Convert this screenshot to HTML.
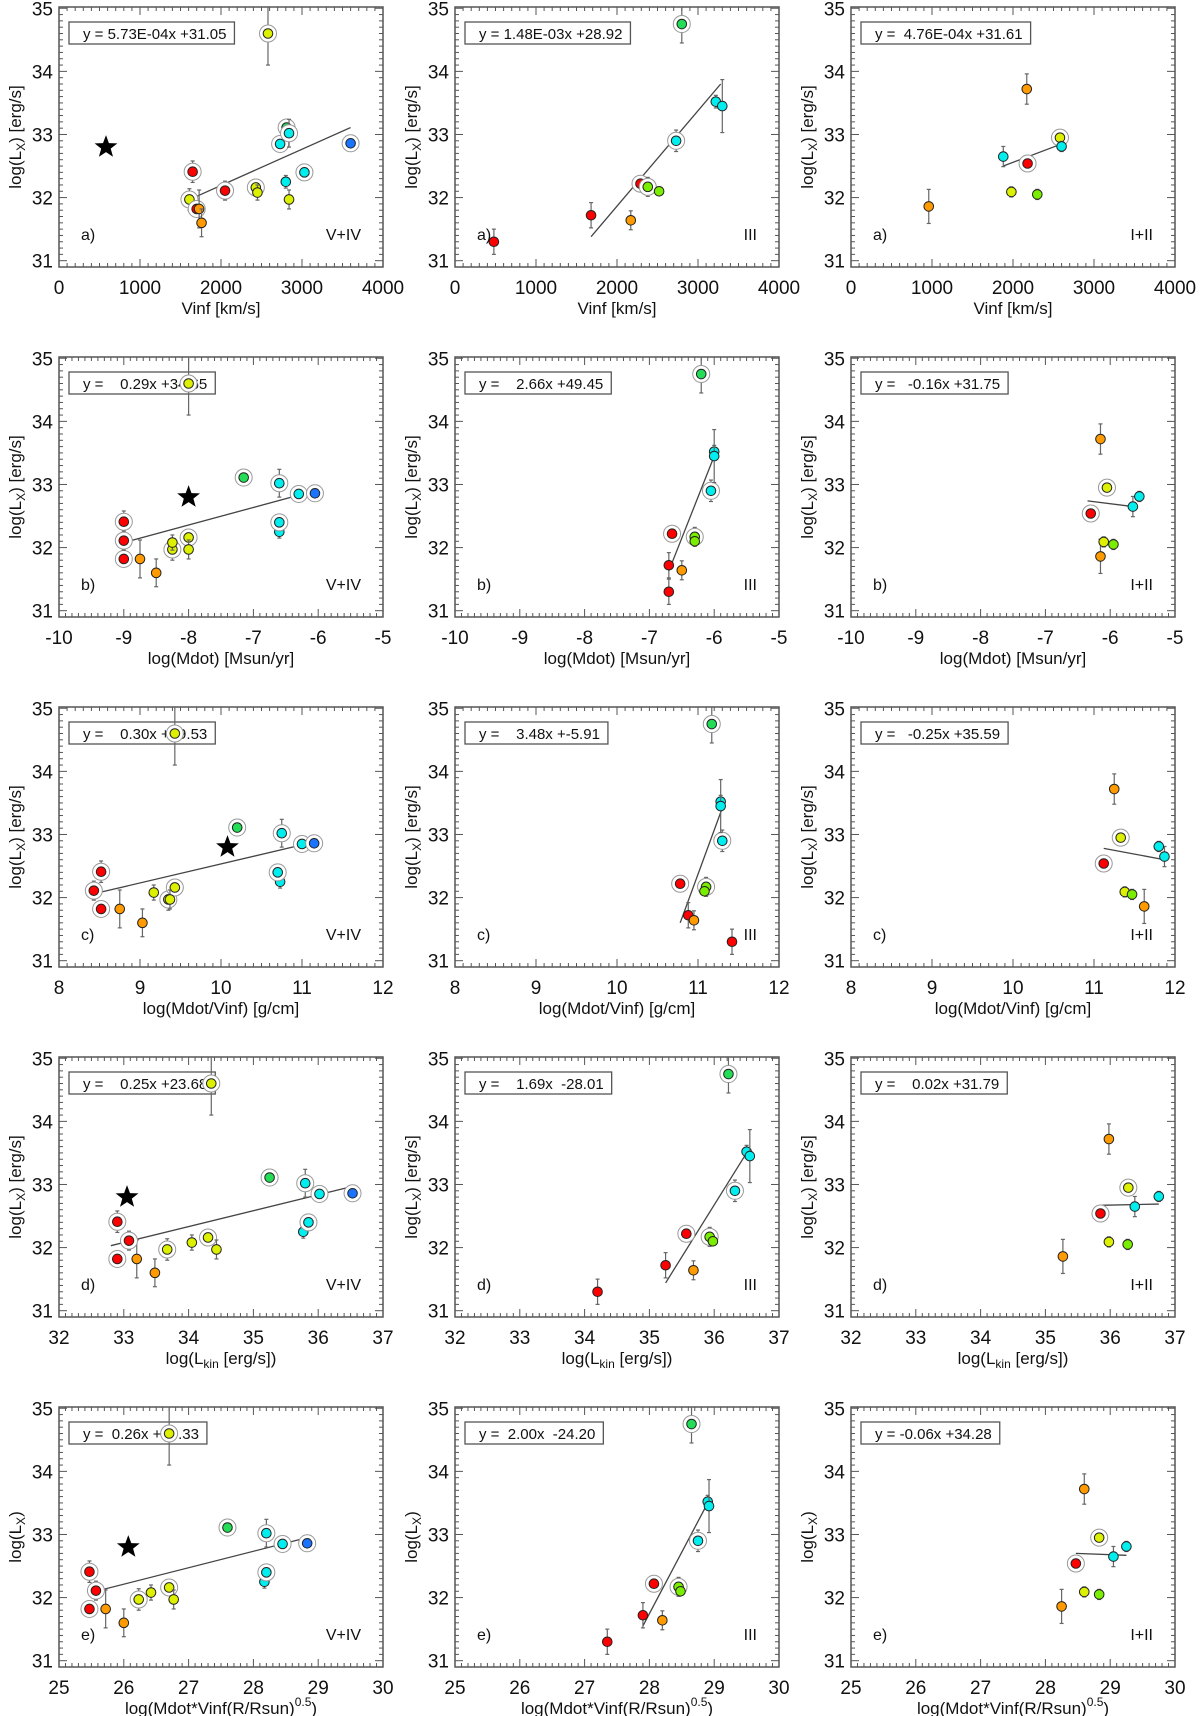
<!DOCTYPE html>
<html><head><meta charset="utf-8">
<style>
html,body{margin:0;padding:0;background:#fff;}
svg{display:block;font-family:"Liberation Sans",Arial,sans-serif;}
</style></head>
<body>
<svg id="fig" width="1200" height="1716" viewBox="0 0 1200 1716" xmlns="http://www.w3.org/2000/svg"></svg>
<script>
// ---- data: shared log(Lx) per luminosity class (column) ----
const c1Lx=[31.97,32.41,31.82,31.82,31.6,32.11,32.16,32.08,34.6,32.85,33.11,33.02,32.25,31.97,32.4,32.86];
const c1Err=[.17,.17,.1,.3,.22,.15,.08,.12,.5,.1,.1,.22,.1,.15,.1,.1];
const c1Col="YRROORYYYCGCCYCB";
const c1Ring=[1,1,1,0,0,1,1,0,1,1,1,1,0,0,1,1];
const c2Lx=[31.3,31.72,31.64,32.22,32.17,32.1,32.9,34.75,33.52,33.45];
const c2Err=[.2,.2,.15,.12,.15,.06,.17,.3,.1,.42];
const c2Col="RRORLLCGCC";
const c2Ring=[0,0,0,1,1,0,1,1,0,0];
const c3Lx=[31.86,32.65,32.09,33.72,32.54,32.05,32.95,32.81];
const c3Err=[.27,.16,.08,.24,.12,.08,.1,.08];
const c3Col="OCYORLYC";
const c3Ring=[0,0,0,0,1,0,1,0];
// x values per row (same star order as above)
const r1c1X=[1610,1650,1700,1730,1760,2050,2430,2450,2580,2730,2810,2840,2800,2840,3030,3600];
const r1c2X=[480,1680,2170,2290,2380,2520,2730,2800,3220,3300];
const r1c3X=[960,1880,1980,2170,2180,2300,2580,2600];
const r2c1X=[-8.25,-9,-9,-8.75,-8.5,-9,-8,-8.25,-8,-6.3,-7.15,-6.6,-6.6,-8,-6.6,-6.05];
const r2c2X=[-6.7,-6.7,-6.5,-6.65,-6.3,-6.3,-6.05,-6.2,-6,-6];
const r2c3X=[-6.15,-5.65,-6.1,-6.15,-6.3,-5.95,-6.05,-5.55];
const r3c1X=[9.35,8.52,8.52,8.75,9.03,8.43,9.43,9.17,9.43,11.0,10.2,10.75,10.73,9.37,10.7,11.15];
const r3c2X=[11.42,10.88,10.95,10.78,11.1,11.08,11.3,11.17,11.28,11.28];
const r3c3X=[11.62,11.87,11.38,11.25,11.12,11.47,11.33,11.8];
const r4c1X=[33.67,32.9,32.9,33.2,33.48,33.08,34.3,34.05,34.35,36.02,35.25,35.8,35.77,34.43,35.85,36.53];
const r4c2X=[34.2,35.25,35.68,35.57,35.93,35.98,36.32,36.22,36.5,36.55];
const r4c3X=[35.27,36.38,35.98,35.98,35.85,36.27,36.28,36.75];
const r5c1X=[26.23,25.47,25.47,25.72,26.0,25.57,26.7,26.42,26.7,28.45,27.6,28.2,28.17,26.77,28.2,28.83];
const r5c2X=[27.35,27.9,28.2,28.07,28.45,28.48,28.75,28.65,28.9,28.92];
const r5c3X=[28.25,29.05,28.6,28.6,28.47,28.83,28.83,29.25];
// reference star (x per row, y)
const starX=[580,-8,10.08,33.05,26.07];
const starY=32.8;
// fit line endpoints [x0,y0,x1,y1] per row (3 columns)
const fitR1=[[1700,32.02,3600,33.11],[1680,31.38,3280,33.8],[1880,32.5,2600,32.85]];
const fitR2=[[-9,32.08,-6.05,32.9],[-6.7,31.63,-6.0,33.45],[-6.35,32.74,-5.65,32.65]];
const fitR3=[[8.43,32.06,11.15,32.88],[10.78,31.6,11.3,33.42],[11.12,32.78,11.87,32.6]];
const fitR4=[[32.8,32.03,36.53,32.97],[35.25,31.44,36.5,33.5],[35.85,32.67,36.75,32.69]];
const fitR5=[[25.57,32.1,28.83,32.95],[27.9,31.55,28.9,33.5],[28.47,32.7,29.25,32.67]];
// equation labels
const eqR1=["y = 5.73E-04x +31.05","y = 1.48E-03x +28.92","y =  4.76E-04x +31.61"];
const eqR2=["y =    0.29x +34.65","y =    2.66x +49.45","y =   -0.16x +31.75"];
const eqR3=["y =    0.30x +29.53","y =    3.48x +-5.91","y =   -0.25x +35.59"];
const eqR4=["y =    0.25x +23.68","y =    1.69x  -28.01","y =    0.02x +31.79"];
const eqR5=["y =  0.26x +25.33","y =  2.00x  -24.20","y = -0.06x +34.28"];
// axis ticks
const xTicksR1=[0,1000,2000,3000,4000];
const xTicksR2=[-10,-9,-8,-7,-6,-5];
const xTicksR3=[8,9,10,11,12];
const xTicksR4=[32,33,34,35,36,37];
const xTicksR5=[25,26,27,28,29,30];
const yTicks=[31,32,33,34,35];
const classLabels=["V+IV","III","I+II"];
const rowLetters=["a)","b)","c)","d)","e)"];

// ---- layout ----
const NS="http://www.w3.org/2000/svg";
const svg=document.getElementById('fig');
const colLeft=[59,455,851], rowTop=[7,357,707,1057,1407], W=324, H=260;
const yMin=30.9,yMax=35.02;
const COLORS={R:"#ff0000",O:"#ff9a00",Y:"#dcf000",L:"#7aee00",G:"#22dd55",C:"#00eeee",B:"#1a74ff"};
function mk(tag,attrs,parent){const e=document.createElementNS(NS,tag);for(const k in attrs)e.setAttribute(k,attrs[k]);(parent||svg).appendChild(e);return e;}

const rows=[
 {xt:xTicksR1,minor:100,xs:[r1c1X,r1c2X,r1c3X],fit:fitR1,eq:eqR1,xl:"Vinf [km/s]",yl:"log(L_X) [erg/s]"},
 {xt:xTicksR2,minor:0.1,xs:[r2c1X,r2c2X,r2c3X],fit:fitR2,eq:eqR2,xl:"log(Mdot) [Msun/yr]",yl:"log(L_X) [erg/s]"},
 {xt:xTicksR3,minor:0.1,xs:[r3c1X,r3c2X,r3c3X],fit:fitR3,eq:eqR3,xl:"log(Mdot/Vinf) [g/cm]",yl:"log(L_X) [erg/s]"},
 {xt:xTicksR4,minor:0.1,xs:[r4c1X,r4c2X,r4c3X],fit:fitR4,eq:eqR4,xl:"LKIN",yl:"log(L_X) [erg/s]"},
 {xt:xTicksR5,minor:0.1,xs:[r5c1X,r5c2X,r5c3X],fit:fitR5,eq:eqR5,xl:"LMV",yl:"log(L_X)"}
];
const cols=[{lx:c1Lx,err:c1Err,col:c1Col,ring:c1Ring},{lx:c2Lx,err:c2Err,col:c2Col,ring:c2Ring},{lx:c3Lx,err:c3Err,col:c3Col,ring:c3Ring}];

rows.forEach((row,ri)=>{
 cols.forEach((cd,ci)=>{
  const L=colLeft[ci],T=rowTop[ri];
  const x0=row.xt[0],x1=row.xt[row.xt.length-1];
  const sx=v=>L+(v-x0)/(x1-x0)*W;
  const sy=v=>T+H-(v-yMin)/(yMax-yMin)*H;
  const g=mk('g',{});
  
  
  const cid='clip'+ri+ci;
  const cp=mk('clipPath',{id:cid},g);mk('rect',{x:L,y:T,width:W,height:H},cp);
  const tk=mk('g',{stroke:"#555","stroke-width":1},g);
  
  
  const nMinor=Math.round((x1-x0)/row.minor);
  for(let i=0;i<=nMinor;i++){const v=x0+i*row.minor;const X=sx(v);
   const isMaj=row.xt.some(t=>Math.abs(t-v)<1e-6);const len=isMaj?8:4;
   mk('line',{x1:X,y1:T+H,x2:X,y2:T+H-len},tk);mk('line',{x1:X,y1:T,x2:X,y2:T+len},tk);}
  for(let i=0;i<=41;i++){const v=31+i*0.1;if(v>yMax)break;const Y=sy(v);
   const isMaj=Math.abs(v-Math.round(v))<1e-6;const len=isMaj?8:4;
   mk('line',{x1:L,y1:Y,x2:L+len,y2:Y},tk);mk('line',{x1:L+W,y1:Y,x2:L+W-len,y2:Y},tk);}
  const frame=mk('rect',{x:L,y:T,width:W,height:H,fill:"none",stroke:"#555","stroke-width":1.5},g);
  
  
  row.xt.forEach(t=>{const tx=mk('text',{x:sx(t),y:T+H+27,"font-size":19,"text-anchor":"middle",fill:"#111"},g);tx.textContent=String(t);
   
   });
  yTicks.forEach(t=>{const tx=mk('text',{x:L-6,y:sy(t)+7,"font-size":19,"text-anchor":"end",fill:"#111"},g);tx.textContent=String(t);
   
   });
  const xt=mk('text',{x:L+W/2,y:T+H+47,"font-size":17,"text-anchor":"middle",fill:"#111"},g);
  
  
  if(row.xl==="LKIN"){xt.textContent="log(L";const s=mk('tspan',{"font-size":12,dy:4},xt);s.textContent="kin";const s2=mk('tspan',{dy:-4},xt);s2.textContent=" [erg/s])";}
  else if(row.xl==="LMV"){xt.textContent="log(Mdot*Vinf(R/Rsun)";const s=mk('tspan',{"font-size":12,dy:-8},xt);s.textContent="0.5";const s2=mk('tspan',{dy:8},xt);s2.textContent=")";}
  else xt.textContent=row.xl;
  const yc=T+H/2, yx=L-38;
  const yt=mk('text',{x:yx,y:yc,"font-size":17,"text-anchor":"middle",fill:"#111",transform:`rotate(-90 ${yx} ${yc})`},g);
  
  
  yt.textContent="log(L";const ys=mk('tspan',{"font-size":12,dy:4},yt);ys.textContent="X";
  const ys2=mk('tspan',{dy:-4},yt);ys2.textContent=row.yl.replace("log(L_X","");
  // equation box (drawn before points so points overlay it)
  const eb=mk('g',{},g);
  
  
  const rect=mk('rect',{x:L+10,y:T+15,width:150,height:22,fill:"#fff",stroke:"#555","stroke-width":1.3},eb);
  const et=mk('text',{x:L+24,y:T+32,"font-size":15,fill:"#111","xml:space":"preserve"},eb);
  et.style.whiteSpace="pre";
  et.textContent=row.eq[ci];
  let w=150;try{w=et.getComputedTextLength()+22;}catch(e){}
  rect.setAttribute('width',w);
  // fit line
  const f=row.fit[ci];
  const fl=mk('line',{x1:sx(f[0]),y1:sy(f[1]),x2:sx(f[2]),y2:sy(f[3]),stroke:"#444","stroke-width":1.3},g);
  
  
  const pg=mk('g',{"clip-path":`url(#${cid})`},g);
  const xs=row.xs[ci];
  xs.forEach((xv,i)=>{
   const X=sx(xv),Y=sy(cd.lx[i]),e=cd.err[i];
   const pt=mk('g',{},pg);
   
   
   mk('line',{x1:X,y1:sy(cd.lx[i]-e),x2:X,y2:sy(cd.lx[i]+e),stroke:"#666","stroke-width":1.2},pt);
   mk('line',{x1:X-2,y1:sy(cd.lx[i]-e),x2:X+2,y2:sy(cd.lx[i]-e),stroke:"#666","stroke-width":1.2},pt);
   mk('line',{x1:X-2,y1:sy(cd.lx[i]+e),x2:X+2,y2:sy(cd.lx[i]+e),stroke:"#666","stroke-width":1.2},pt);
   if(cd.ring[i]){mk('circle',{cx:X,cy:Y,r:8.5,fill:"#fff",stroke:"#999","stroke-width":1},pt);}
   mk('circle',{cx:X,cy:Y,r:4.8,fill:COLORS[cd.col[i]],stroke:"#222","stroke-width":1},pt);
  });
  if(ci===0){
   const X=sx(starX[ri]),Y=sy(starY),R=12,r=5;let pts=[];
   for(let k=0;k<10;k++){const a=-Math.PI/2+k*Math.PI/5;const rr=k%2?r:R;pts.push((X+rr*Math.cos(a)).toFixed(1)+","+(Y+rr*Math.sin(a)).toFixed(1));}
   const st=mk('polygon',{points:pts.join(" "),fill:"#000"},g);
   
   
  }
  const lt=mk('text',{x:L+22,y:T+H-27,"font-size":16,fill:"#111"},g);lt.textContent=rowLetters[ri];
  
  
  const cl=mk('text',{x:L+W-22,y:T+H-27,"font-size":16,"text-anchor":"end",fill:"#111"},g);cl.textContent=classLabels[ci];
  
  
 });
});
</script>
</body></html>
